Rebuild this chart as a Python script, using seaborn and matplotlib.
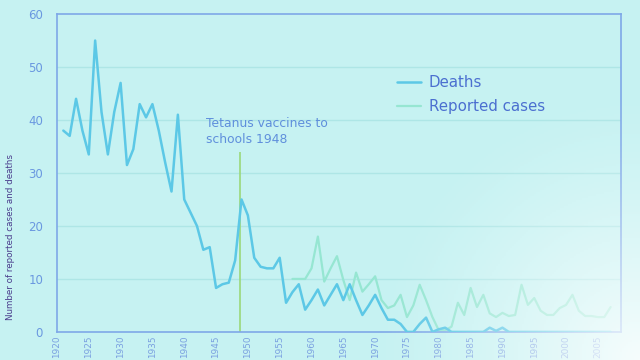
import numpy as np
import pandas as pd
import matplotlib
matplotlib.use("Agg")
import matplotlib.pyplot as plt
import seaborn as sns

# ---- data ----
death_years = list(range(1921, 2008))
deaths = [38, 37, 44, 38, 33.5, 55, 41.5, 33.5, 41.5, 47,
          31.5, 34.5, 43, 40.5, 43, 38, 32, 26.5, 41, 25,
          22.5, 20, 15.5, 16, 8.3, 9, 9.3, 13.5, 25, 22,
          14, 12.3, 12, 12, 14, 5.5, 7.5, 9, 4.2, 6,
          8, 5, 7, 9, 6, 9, 6, 3.2, 5, 7,
          4.5, 2.3, 2.3, 1.5, 0, 0, 1.5, 2.7, 0, 0.5,
          0.8, 0, 0, 0, 0, 0, 0, 0.8, 0.2, 0.8,
          0, 0, 0, 0, 0, 0, 0, 0, 0, 0,
          0, 0, 0, 0, 0, 0, 0]
case_years = list(range(1957, 2008))
cases = [10, 10, 10, 12, 18, 9.5, 12, 14.3, 9.8, 6,
         11.2, 7.6, 9, 10.5, 6, 4.5, 5, 7, 2.8, 5,
         8.9, 6, 2.8, 0.3, 0.3, 1, 5.5, 3.2, 8.3, 4.7,
         7, 3.5, 2.8, 3.6, 3, 3.2, 8.9, 5.1, 6.4, 4,
         3.2, 3.2, 4.5, 5.1, 7, 4, 3, 3, 2.8, 2.8, 4.7]
vaccine_year = 1948.8
vaccine_top = 34
annotation = "Tetanus vaccines to\nschools 1948"
x_ticks = list(range(1920, 2010, 5))
y_ticks = list(range(0, 70, 10))

df_d = pd.DataFrame({"year": death_years, "value": deaths})
df_c = pd.DataFrame({"year": case_years, "value": cases})

# ---- style ----
BG = "#c6f2f2"
sns.set_style("white")
plt.rcParams["font.family"] = ["DejaVu Sans"]

fig = plt.figure(figsize=(6.4, 3.6), dpi=100, facecolor=BG)
ax = fig.add_axes([0.089, 0.078, 0.881, 0.883])
ax.set_facecolor(BG)

for yv in y_ticks[1:-1]:
    ax.axhline(yv, color="#aee6e6", lw=1.0, zorder=0)

sns.lineplot(data=df_d, x="year", y="value", ax=ax, color="#5cc8e6",
             lw=1.8, label="Deaths", zorder=3)
sns.lineplot(data=df_c, x="year", y="value", ax=ax, color="#96e6d2",
             lw=1.6, label="Reported cases", zorder=2)

ax.vlines(vaccine_year, 0, vaccine_top, color="#9ad87a", lw=1.2, zorder=1)
ax.text(1943.4, 40.6, annotation, color="#5f8fdc", fontsize=8.9,
        va="top", ha="left", linespacing=1.3)

ax.set_xlim(1920, 2008.6)
ax.set_ylim(0, 60)
ax.set_xticks(x_ticks)
ax.set_xticklabels([str(t) for t in x_ticks], rotation=90)
ax.set_xticks(range(1920, 2009), minor=True)
ax.set_yticks(y_ticks)
ax.tick_params(axis="both", direction="in", colors="#6a98e0")
ax.tick_params(axis="y", length=3, pad=10, labelsize=8.5)
ax.tick_params(axis="x", which="major", length=3, pad=2.5, labelsize=6.4)
ax.tick_params(axis="x", which="minor", length=2, color="#6a98e0")
for t in ax.get_xticklabels():
    t.set_color("#7aa0e0")

for s in ax.spines.values():
    s.set_color("#7ea8e8")
    s.set_linewidth(1.2)

ax.set_xlabel("")
ax.set_ylabel("Number of reported cases and deaths", fontsize=6.3,
              color="#4a3c8c")
ax.yaxis.set_label_coords(-0.075, 0.3)

leg = ax.legend(loc="upper left", bbox_to_anchor=(0.58, 0.85), frameon=False,
                fontsize=10.8, handlelength=1.6, labelspacing=0.6,
                handletextpad=0.5)
for txt in leg.get_texts():
    txt.set_color("#4b6fd0")

# soft projector glare in the lower right corner
gx, gy = np.meshgrid(np.linspace(0, 1, 320), np.linspace(0, 1, 180))
d = np.sqrt(((gx - 1.0) / 0.42) ** 2 + ((gy - 0.0) / 0.75) ** 2)
alpha = np.clip(1 - d, 0, 1) ** 1.3 * 0.85
glare = np.zeros((180, 320, 4))
glare[..., :3] = 1.0
glare[..., 3] = alpha
gax = fig.add_axes([0, 0, 1, 1], zorder=10)
gax.imshow(glare, extent=(0, 1, 0, 1), origin="lower", aspect="auto")
gax.set_axis_off()

fig.savefig("out.png", dpi=100, facecolor=BG)
